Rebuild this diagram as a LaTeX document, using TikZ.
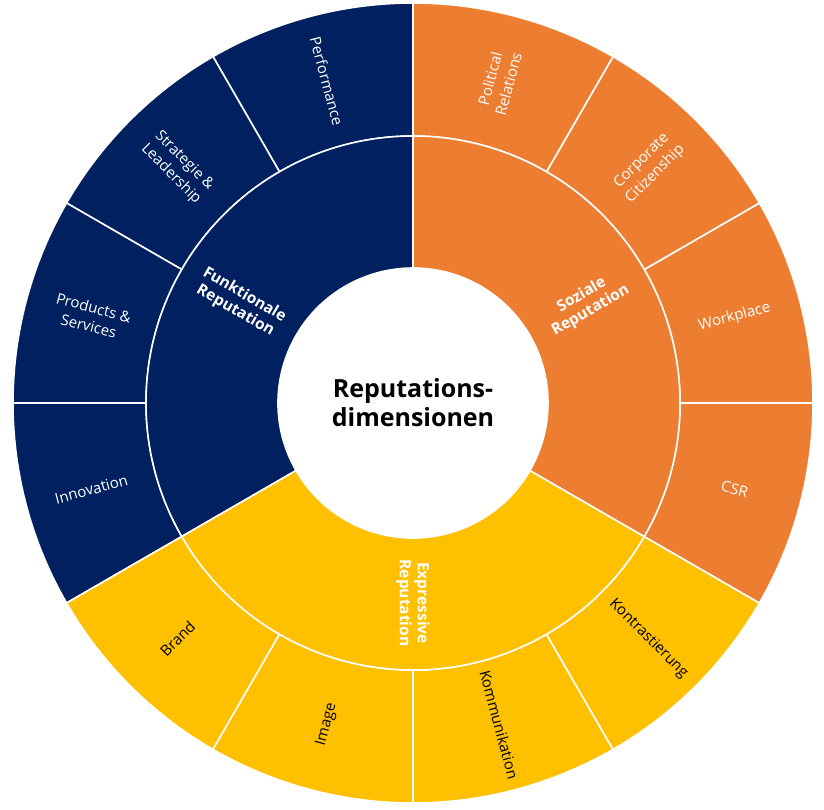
\documentclass[tikz,border=0pt]{standalone}
\usepackage{fontspec}
\setmainfont{Open Sans}
\definecolor{navy}{HTML}{002060}
\definecolor{orng}{HTML}{ED7D31}
\definecolor{gold}{HTML}{FFC000}
\begin{document}
\begin{tikzpicture}[x=1pt,y=1pt,
  seg/.style={draw=white,line width=1.6pt},
  olab/.style={font=\fontsize{15}{19}\selectfont,align=center,inner sep=1pt},
  ilab/.style={font=\bfseries\fontsize{15.5}{18}\selectfont,align=center,text=white,inner sep=1pt}]
\useasboundingbox (-413,-406) rectangle (411,403);
\def\Ro{400}\def\Rm{267}\def\Ri{135}
% outer ring
\foreach \a/\c in {90/navy,120/navy,150/navy,180/navy,210/gold,240/gold,270/gold,300/gold,-30/orng,0/orng,30/orng,60/orng}{
  \fill[\c,seg] (\a:\Rm) -- (\a:\Ro) arc[start angle=\a,delta angle=30,radius=\Ro] -- (\a+30:\Rm) arc[start angle=\a+30,delta angle=-30,radius=\Rm] -- cycle;
}
% middle ring
\foreach \a/\c in {90/navy,210/gold,-30/orng}{
  \fill[\c,seg] (\a:\Ri) -- (\a:\Rm) arc[start angle=\a,delta angle=120,radius=\Rm] -- (\a+120:\Ri) arc[start angle=\a+120,delta angle=-120,radius=\Ri] -- cycle;
}
\node[font=\bfseries\fontsize{25}{29}\selectfont,align=center] (c) at (0,0) {Reputations-\\dimensionen};
\node[ilab,rotate=-30] (f) at (150:200) {Funktionale\\Reputation};
\node[ilab,rotate=30] (s) at (30:200) {Soziale\\Reputation};
\node[ilab,rotate=-90] (e) at (270:200) {Expressive\\Reputation};
\node[olab,text=white,rotate=-75] (o1) at (105:333) {Performance};
\node[olab,text=white,rotate=-45] (o2) at (135:333) {Strategie \&\\Leadership};
\node[olab,text=white,rotate=-15] (o3) at (165:333) {Products \&\\Services};
\node[olab,text=white,rotate=15] (o4) at (195:333) {Innovation};
\node[olab,rotate=45] (o5) at (225:333) {Brand};
\node[olab,rotate=75] (o6) at (255:333) {Image};
\node[olab,rotate=-75] (o7) at (285:333) {Kommunikation};
\node[olab,rotate=-45] (o8) at (315:333) {Kontrastierung};
\node[olab,text=white,rotate=-15] (o9) at (-15:333) {CSR};
\node[olab,text=white,rotate=15] (o10) at (15:333) {Workplace};
\node[olab,text=white,rotate=45] (o11) at (45:333) {Corporate\\Citizenship};
\node[olab,text=white,rotate=75] (o12) at (75:333) {Political\\Relations};
\end{tikzpicture}
\end{document}
